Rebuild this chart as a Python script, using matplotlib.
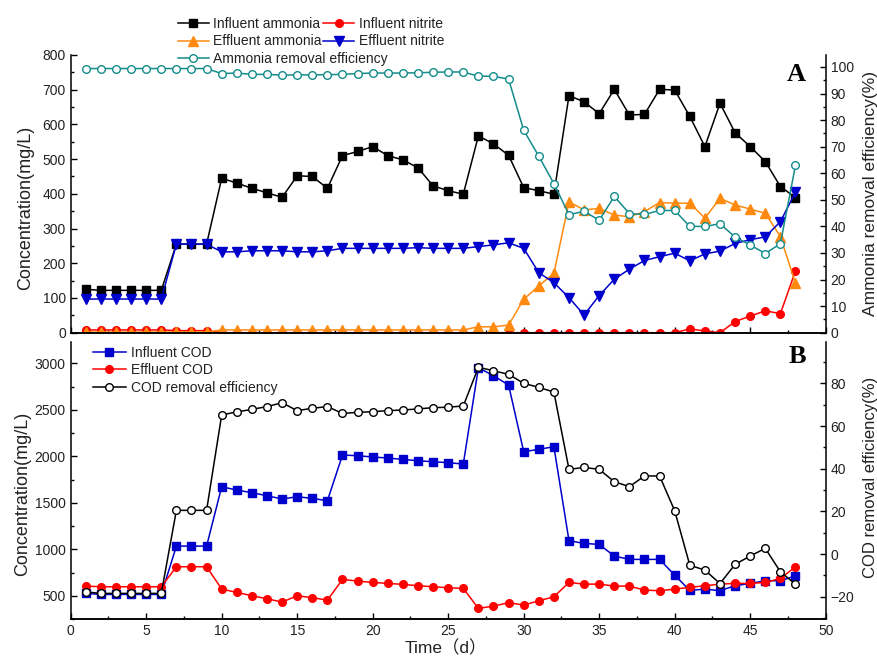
import matplotlib
matplotlib.use("Agg")
from matplotlib import pyplot as plt
from matplotlib.ticker import MultipleLocator

plt.rcParams['font.family'] = ['Liberation Sans', 'Noto Sans CJK SC', 'DejaVu Sans']

# sampling days
days = list(range(1, 49))

# panel A: nitrogen (mg/L) and ammonia removal (%)
inf_ammonia = [125, 122, 122, 122, 122, 122, 255, 255, 255,
               445, 431, 416, 403, 390, 452, 450, 416, 510, 522, 536, 510, 498, 475, 423,
               409, 399, 567, 544, 511, 418, 409, 399, 683, 665, 631, 701, 627, 629, 701, 699,
               623, 536, 661, 576, 536, 493, 421, 389]
inf_nitrite = [8, 8, 8, 8, 8, 8, 6, 6, 6,
               0, 0, 0, 0, 0, 0, 0, 0, 0, 0, 0, 0, 0, 0, 0,
               0, 0, 0, 0, 0, 0, 0, 0, 0, 0, 0, 0, 0, 0, 0, 0,
               11, 5, 0, 32, 48, 63, 55, 178]
eff_ammonia = [2, 2, 2, 2, 2, 2, 2, 2, 2,
               8, 8, 8, 8, 8, 8, 8, 8, 8, 8, 8, 8, 8, 8, 8,
               8, 8, 17, 17, 22, 96, 135, 171, 377, 354, 358, 339, 334, 349, 375, 373,
               373, 330, 387, 368, 356, 344, 277, 142]
eff_nitrite = [97, 97, 97, 97, 97, 97, 255, 255, 255,
               233, 233, 236, 236, 236, 233, 233, 236, 243, 243, 243, 243, 243, 245, 243,
               243, 243, 248, 253, 259, 243, 173, 144, 101, 51, 107, 154, 183, 208, 219, 229,
               207, 227, 235, 257, 268, 276, 320, 405]
nh_removal = [99.4, 99.4, 99.4, 99.4, 99.4, 99.4, 99.4, 99.4, 99.4,
              97.5, 97.7, 97.2, 97.2, 96.9, 97.0, 97.0, 97.1, 97.2, 97.5, 97.7, 97.7, 97.7, 97.8, 98.0,
              98.1, 98.1, 96.5, 96.5, 95.4, 76.2, 66.4, 56.1, 44.4, 45.7, 42.3, 51.3, 44.8, 44.5, 46.0, 46.0,
              40.0, 40.0, 41.0, 36.0, 33.0, 29.8, 33.5, 63.0]

# panel B: COD (mg/L) and COD removal (%)
inf_cod = [525, 514, 514, 514, 514, 514, 1034, 1034, 1034,
           1672, 1637, 1608, 1576, 1540, 1565, 1547, 1522, 2013, 2006, 1992, 1981, 1966, 1952, 1941,
           1931, 1916, 2952, 2866, 2766, 2049, 2074, 2103, 1092, 1063, 1052, 927, 891, 891, 891, 722,
           557, 572, 554, 608, 633, 661, 661, 715]
eff_cod = [604, 597, 597, 597, 597, 597, 812, 812, 812,
           572, 536, 500, 468, 432, 500, 479, 453, 676, 658, 643, 633, 622, 608, 597,
           586, 579, 364, 389, 425, 400, 446, 489, 643, 625, 625, 604, 604, 561, 554, 572,
           590, 608, 625, 633, 633, 643, 686, 812]
cod_removal = [-17.7, -18.4, -18.4, -18.4, -18.4, -18.4, 20.5, 20.5, 20.5,
               65.2, 66.6, 67.8, 69.1, 70.9, 67.2, 68.3, 69.1, 65.9, 66.4, 66.7, 67.2, 67.5, 68.0, 68.6,
               68.8, 69.4, 87.5, 85.9, 84.2, 80.0, 78.1, 75.9, 39.7, 40.6, 39.7, 33.9, 31.6, 36.6, 36.6, 20.3,
               -5.2, -7.5, -13.8, -4.8, -0.9, 2.7, -8.3, -14.1]

TEAL = '#138c8c'
ORANGE = '#ff8a10'
BLUE = '#0000cc'
RED = '#ff0000'
TXT = '#222222'
MS = 5.5
LW = 1.1
LEG = dict(frameon=False, fontsize=10, borderpad=0, borderaxespad=0, labelspacing=0.25,
           handletextpad=0.35, labelcolor=TXT)


def style_axis(ax, major, minor):
    ax.yaxis.set_major_locator(MultipleLocator(major))
    ax.yaxis.set_minor_locator(MultipleLocator(minor))
    ax.tick_params(which='both', direction='in', labelsize=10, colors='black', labelcolor=TXT)
    ax.tick_params(which='major', length=4.5, width=1)
    ax.tick_params(which='minor', length=2.5, width=1)
    ax.spines['top'].set_visible(False)
    for s in ax.spines.values():
        s.set_linewidth(1.1)


fig = plt.figure(figsize=(8.77, 6.6), dpi=100)
axA = fig.add_axes([0.0806, 0.4959, 0.8609, 0.4208])
axB = fig.add_axes([0.0806, 0.0621, 0.8609, 0.4202])
axA2 = axA.twinx()
axB2 = axB.twinx()

# ---- panel A ----
l1, = axA.plot(days, inf_ammonia, '-s', color='black', ms=MS, lw=LW)
l2, = axA.plot(days, inf_nitrite, '-o', color=RED, ms=MS, lw=LW)
l3, = axA.plot(days, eff_ammonia, '-^', color=ORANGE, ms=MS + 1, lw=LW)
l4, = axA.plot(days, eff_nitrite, '-v', color=BLUE, ms=MS + 1, lw=LW)
l5, = axA2.plot(days, nh_removal, '-o', color=TEAL, mfc='white', mec=TEAL, ms=MS, lw=LW)

axA.set_xlim(0, 50)
axA.set_ylim(0, 800)
axA2.set_ylim(0, 104.5)
axA.xaxis.set_major_locator(MultipleLocator(5))
axA.xaxis.set_minor_locator(MultipleLocator(2.5))
axA.tick_params(axis='x', which='both', labelbottom=False)
style_axis(axA, 100, 50)
style_axis(axA2, 10, 5)
axA2.spines['left'].set_visible(False)
axA.spines['right'].set_visible(False)

axA.set_ylabel('Concentration(mg/L)', fontsize=13, color=TXT)
axA.yaxis.set_label_coords(-0.048, 0.45)
axA2.set_ylabel('Ammonia removal efficiency(%)', fontsize=12.5, color=TXT)
axA2.yaxis.set_label_coords(1.049, 0.5)
axA.text(0.961, 0.93, 'A', transform=axA.transAxes, ha='center', va='center',
         fontsize=19, fontweight='bold', family='Liberation Serif')

# two rows of paired entries, then the efficiency entry on its own row
fig.legend([l1, l3, l2, l4],
           ['Influent ammonia', 'Effluent ammonia', 'Influent nitrite', 'Effluent nitrite'],
           ncol=2, loc='upper left', bbox_to_anchor=(178 / 877, 1 - 17 / 660),
           handlelength=2.2, columnspacing=0.1, **LEG)
fig.legend([l5], ['Ammonia removal efficiency'],
           loc='upper left', bbox_to_anchor=(178 / 877, 1 - 51.8 / 660),
           handlelength=2.2, **LEG)

# ---- panel B ----
m1, = axB.plot(days, inf_cod, '-s', color=BLUE, ms=MS, lw=LW)
m2, = axB.plot(days, eff_cod, '-o', color=RED, ms=MS, lw=LW)
m3, = axB2.plot(days, cod_removal, '-o', color='black', mfc='white', mec='black', ms=MS, lw=LW)

axB.set_xlim(0, 50)
axB.set_ylim(250, 3232)
axB2.set_ylim(-30.4, 99.5)
axB.xaxis.set_major_locator(MultipleLocator(5))
axB.xaxis.set_minor_locator(MultipleLocator(2.5))
style_axis(axB, 500, 250)
style_axis(axB2, 20, 10)
axB2.spines['left'].set_visible(False)
axB.spines['right'].set_visible(False)

axB.set_ylabel('Concentration(mg/L)', fontsize=13, color=TXT)
axB.yaxis.set_label_coords(-0.052, 0.45)
axB2.set_ylabel('COD removal efficiency(%)', fontsize=12, color=TXT)
axB2.yaxis.set_label_coords(1.049, 0.51)
axB.set_xlabel('Time（d）', fontsize=12.5, color=TXT)
axB.xaxis.set_label_coords(0.497, -0.076)
axB.text(0.962, 0.945, 'B', transform=axB.transAxes, ha='center', va='center',
         fontsize=19, fontweight='bold', family='Liberation Serif')

axB.legend([m1, m2, m3], ['Influent COD', 'Effluent COD', 'COD removal efficiency'],
           loc='upper left', bbox_to_anchor=(0.029, 0.985), handlelength=2.4, **LEG)

fig.savefig('out.png', dpi=100)
